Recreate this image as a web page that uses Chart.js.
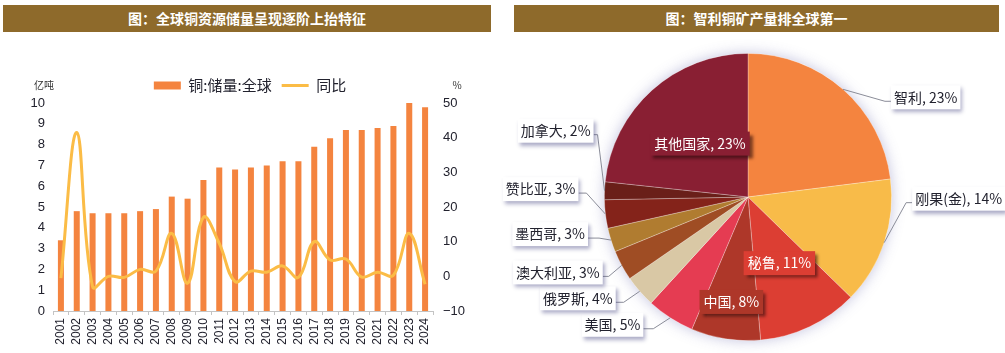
<!DOCTYPE html>
<html>
<head>
<meta charset="utf-8">
<title>铜资源储量与产量</title>
<script src="https://cdn.jsdelivr.net/npm/chart.js"></script>
<style>
    body {
        margin: 0;
        padding: 0;
        background: #fff;
        width: 1005px;
        height: 353px;
        overflow: hidden;
        position: relative;
        font-family: 'Noto Sans CJK SC', sans-serif;
    }
    .banner {
        position: absolute;
        top: 5px;
        height: 27px;
        background: #8e6a2b;
        color: #fff;
        font-weight: bold;
        font-size: 14px;
        line-height: 27px;
        text-align: center;
    }
    #leftBox {
        position: absolute;
        left: 0;
        top: 33px;
        width: 500px;
        height: 320px;
    }
    #rightBox {
        position: absolute;
        left: 500px;
        top: 33px;
        width: 505px;
        height: 320px;
    }
</style>
</head>
<body>

<div class="banner" style="left:3px;width:488px;">图：全球铜资源储量呈现逐阶上抬特征</div>
<div class="banner" style="left:514px;width:485px;">图：智利铜矿产量排全球第一</div>

<div id="leftBox"><canvas id="reserveChart"></canvas></div>
<div id="rightBox"><canvas id="outputChart"></canvas></div>

<script>
    // left chart: global copper reserves (亿吨) and yoy (%)
    const years = ['2001', '2002', '2003', '2004', '2005', '2006', '2007', '2008', '2009', '2010', '2011', '2012',
                   '2013', '2014', '2015', '2016', '2017', '2018', '2019', '2020', '2021', '2022', '2023', '2024'];
    const reserves = [3.4, 4.8, 4.7, 4.7, 4.7, 4.8, 4.9, 5.5, 5.4, 6.3, 6.9, 6.8,
                      6.9, 7.0, 7.2, 7.2, 7.9, 8.3, 8.7, 8.7, 8.8, 8.9, 10.0, 9.8];
    const yoy = [-0.5, 41.5, -3.0, 0.0, -0.3, 2.0, 1.5, 12.4, -2.0, 17.0, 9.5, -1.5,
                 1.5, 1.2, 3.0, -0.3, 10.0, 4.7, 5.0, -0.2, 1.2, 0.3, 12.4, -2.3];
    const leftTicks = [0, 10];
    const rightTicks = [-10, 50];

    // right chart: copper mine output share (%)
    const countries = ['智利', '刚果(金)', '秘鲁', '中国', '美国', '俄罗斯', '澳大利亚', '墨西哥', '赞比亚', '加拿大', '其他国家'];
    const shares = [23.0, 14.3, 11.3, 7.8, 5.4, 3.6, 3.4, 2.7, 3.2, 2.0, 23.3];

    const sliceColors = ['#f4843f', '#f8bb49', '#dc3e33', '#ae3729', '#e53c52', '#d9c8a5',
                         '#9f4d24', '#b07c30', '#84231a', '#6a1f19', '#891f33'];
    // label layout: 'in' -> [radius fraction], 'out' -> [elbow dx, elbow dy, horizontal length]
    const labelLayout = [
        ['out', 42, 12, 6], ['out', 22, -40, 6], ['in', 0.51], ['in', 0.74], ['out', -17, 11, 10],
        ['out', -16, 11, 8], ['out', -13, 11, 6], ['out', -12, -2, 11], ['out', -19, -21, 8],
        ['out', -7, -56, 4], ['in', 0.5]
    ];

    const cjk = '"Noto Sans CJK SC", sans-serif';
    const latin = '"Liberation Sans", Arial, sans-serif';
    const textColor = '#22222e';
    const barColor = '#f4843f';
    const lineColor = '#fbbc46';

    const unitLabels = {
        id: 'unitLabels',
        afterDraw(chart) {
            const {ctx, chartArea} = chart;
            ctx.save();
            ctx.font = '10px ' + cjk;
            ctx.fillStyle = '#333';
            ctx.textAlign = 'center';
            ctx.textBaseline = 'middle';
            ctx.fillText('亿吨', chartArea.left - 9, chartArea.top - 18);
            ctx.fillText('%', chartArea.right + 24, chartArea.top - 18);
            ctx.restore();
        }
    };

    new Chart(document.getElementById('reserveChart'), {
        type: 'bar',
        data: {
            labels: years,
            datasets: [{
                label: '铜:储量:全球',
                data: reserves,
                backgroundColor: barColor,
                barPercentage: 0.38,
                categoryPercentage: 1,
                yAxisID: 'y',
                order: 2
            }, {
                type: 'line',
                label: '同比',
                data: yoy,
                borderColor: lineColor,
                backgroundColor: lineColor,
                borderWidth: 3,
                pointRadius: 0,
                tension: 0.4,
                yAxisID: 'y1',
                order: 1
            }]
        },
        options: {
            responsive: true,
            maintainAspectRatio: false,
            animation: false,
            layout: { padding: { top: 35, left: 0, right: 0, bottom: 0 } },
            plugins: {
                tooltip: { enabled: false },
                legend: {
                    position: 'top',
                    labels: {
                        font: { family: cjk, size: 15 },
                        color: textColor,
                        usePointStyle: true,
                        pointStyleWidth: 27,
                        boxHeight: 8,
                        padding: 10,
                        sort: (a, b) => a.datasetIndex - b.datasetIndex,
                        generateLabels(chart) {
                            const items = Chart.defaults.plugins.legend.labels.generateLabels(chart);
                            items.forEach(item => {
                                if (item.datasetIndex === 0) {
                                    item.pointStyle = 'rect';
                                    item.lineWidth = 0;
                                } else {
                                    item.pointStyle = 'line';
                                    item.strokeStyle = lineColor;
                                    item.lineWidth = 3;
                                }
                            });
                            return items;
                        }
                    }
                }
            },
            scales: {
                x: {
                    grid: {
                        drawOnChartArea: false,
                        drawTicks: true,
                        tickLength: 4,
                        color: '#c4c4c4',
                        offset: true
                    },
                    border: { display: true, color: '#c4c4c4' },
                    ticks: {
                        font: { family: latin, size: 12 },
                        color: textColor,
                        minRotation: 90,
                        maxRotation: 90,
                        autoSkip: false,
                        padding: 3
                    },
                    afterFit(scale) { scale.height = 42; }
                },
                y: {
                    position: 'left',
                    min: leftTicks[0],
                    max: leftTicks[1],
                    ticks: { stepSize: 1, font: { family: latin, size: 13 }, color: textColor, padding: 8 },
                    grid: { display: false, drawTicks: false },
                    border: { display: false },
                    afterFit(scale) { scale.width = 53; }
                },
                y1: {
                    position: 'right',
                    min: rightTicks[0],
                    max: rightTicks[1],
                    ticks: {
                        stepSize: 10,
                        font: { family: latin, size: 13 },
                        color: textColor,
                        padding: 10,
                        callback: v => (v < 0 ? '\u2212' + Math.abs(v) : v)
                    },
                    grid: { display: false, drawTicks: false },
                    border: { display: false },
                    afterFit(scale) { scale.width = 67; }
                }
            }
        },
        plugins: [unitLabels]
    });

    // soft halo behind the pie
    const pieGlow = {
        id: 'pieGlow',
        beforeDatasetsDraw(chart) {
            const arc = chart.getDatasetMeta(0).data[0];
            if (!arc) return;
            const ctx = chart.ctx;
            ctx.save();
            ctx.shadowColor = 'rgba(80, 80, 160, 0.35)';
            ctx.shadowBlur = 14;
            ctx.fillStyle = '#fff';
            ctx.beginPath();
            ctx.arc(arc.x, arc.y, arc.outerRadius, 0, Math.PI * 2);
            ctx.fill();
            ctx.restore();
        }
    };

    const pieLabels = {
        id: 'pieLabels',
        afterDatasetsDraw(chart) {
            const ctx = chart.ctx;
            const arcs = chart.getDatasetMeta(0).data;
            ctx.save();
            ctx.font = '14px ' + cjk;
            ctx.textBaseline = 'middle';
            arcs.forEach((arc, i) => {
                const {x, y, startAngle, endAngle, outerRadius} = arc.getProps(['x', 'y', 'startAngle', 'endAngle', 'outerRadius'], true);
                const mid = (startAngle + endAngle) / 2;
                const text = countries[i] + ', ' + Math.round(shares[i]) + '%';
                const w = ctx.measureText(text).width;
                const lay = labelLayout[i];

                if (lay[0] === 'in') {
                    const cx = x + Math.cos(mid) * outerRadius * lay[1];
                    const cy = y + Math.sin(mid) * outerRadius * lay[1];
                    ctx.save();
                    ctx.shadowColor = 'rgba(40, 10, 10, 0.6)';
                    ctx.shadowBlur = 3;
                    ctx.shadowOffsetX = 3;
                    ctx.shadowOffsetY = 3;
                    ctx.fillStyle = sliceColors[i];
                    ctx.fillRect(cx - w / 2 - 4, cy - 12, w + 8, 24);
                    ctx.restore();
                    ctx.fillStyle = '#fff';
                    ctx.textAlign = 'center';
                    ctx.fillText(text, cx, cy);
                    return;
                }

                const ax = x + Math.cos(mid) * outerRadius;
                const ay = y + Math.sin(mid) * outerRadius;
                const ex = ax + lay[1];
                const ey = ay + lay[2];
                const dir = lay[1] > 0 ? 1 : -1;
                const hx = ex + dir * lay[3];

                ctx.strokeStyle = '#8a8c98';
                ctx.lineWidth = 1;
                ctx.beginPath();
                ctx.moveTo(ax, ay);
                ctx.lineTo(ex, ey);
                ctx.lineTo(hx, ey);
                ctx.stroke();

                const tx = hx + dir * 3;
                const cy = ey - 4;
                const left = dir > 0 ? tx - 3 : tx - w - 3;
                ctx.save();
                ctx.shadowColor = 'rgba(70, 70, 130, 0.45)';
                ctx.shadowBlur = 4;
                ctx.shadowOffsetX = 2;
                ctx.shadowOffsetY = 3;
                ctx.fillStyle = '#fff';
                ctx.fillRect(left, cy - 12, w + 6, 24);
                ctx.restore();
                ctx.fillStyle = textColor;
                ctx.textAlign = dir > 0 ? 'left' : 'right';
                ctx.fillText(text, tx, cy);
            });
            ctx.restore();
        }
    };

    new Chart(document.getElementById('outputChart'), {
        type: 'pie',
        data: {
            labels: countries,
            datasets: [{
                data: shares,
                backgroundColor: sliceColors,
                borderColor: 'rgba(255, 255, 255, 0.35)',
                borderWidth: 0.8
            }]
        },
        options: {
            responsive: true,
            maintainAspectRatio: false,
            animation: false,
            layout: { padding: { top: 20, bottom: 12, left: 100, right: 109 } },
            plugins: {
                legend: { display: false },
                tooltip: { enabled: false }
            }
        },
        plugins: [pieGlow, pieLabels]
    });
</script>

</body>
</html>
